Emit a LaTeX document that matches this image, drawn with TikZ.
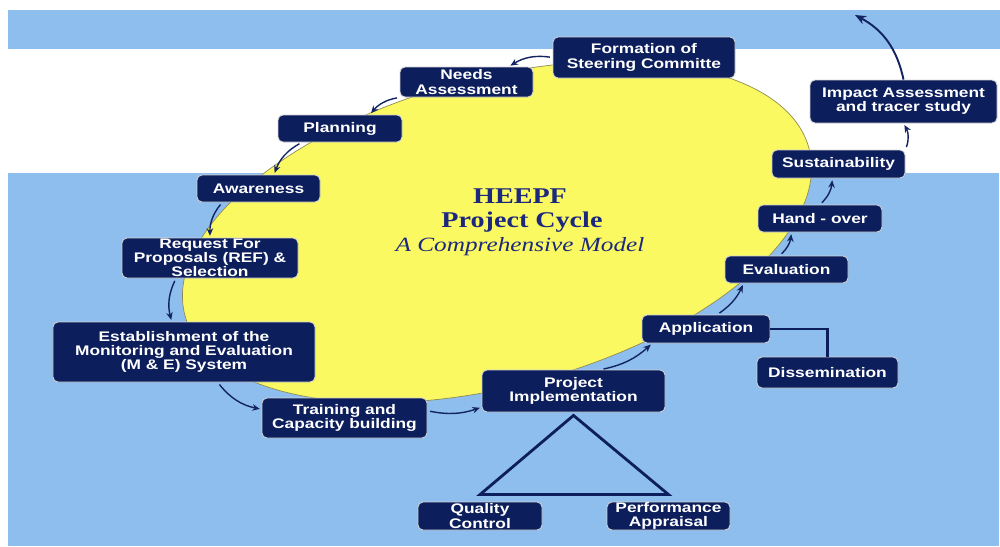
\documentclass[tikz,border=0pt]{standalone}
\usepackage{fontspec}
\usetikzlibrary{arrows.meta}
\newfontfamily\stagefont[FakeStretch=1.25]{Liberation Sans}
\newfontfamily\heepffont[FakeStretch=1.25]{Liberation Serif}
\definecolor{bandblue}{RGB}{142,190,238}
\definecolor{ovalyellow}{RGB}{250,249,98}
\definecolor{boxnavy}{RGB}{12,30,92}
\definecolor{linknavy}{RGB}{20,36,98}
\definecolor{ttlnavy}{RGB}{28,40,125}
\tikzset{
  stage/.style={draw=gray!35, line width=0.5pt, fill=boxnavy, rounded corners=1mm,
    text=white, align=center, inner sep=0pt,
    font=\stagefont\bfseries\fontsize{7.9}{8.1}\selectfont},
  oval/.style={fill=ovalyellow, draw=gray!60!olive, line width=0.4pt},
  cyc/.style={-{Stealth[length=1.5mm,width=1.3mm]}, linknavy, line width=0.8pt,
    shorten <=1.5pt, shorten >=1pt},
  outarr/.style={-{Stealth[length=2.2mm,width=1.8mm]}, linknavy, line width=1.1pt},
  tri/.style={boxnavy, line width=1.6pt, line join=miter},
  link/.style={boxnavy, line width=1.2pt},
  ttl/.style={text=ttlnavy, inner sep=0pt, anchor=base,
    font=\heepffont\bfseries\fontsize{12.8}{14}\selectfont},
  ttlit/.style={text=ttlnavy, inner sep=0pt, anchor=base,
    font=\heepffont\itshape\fontsize{11.5}{13}\selectfont},
}

\begin{document}
\begin{tikzpicture}[x=0.2mm,y=-0.2mm]
\useasboundingbox (0,0) rectangle (1000,546);
% backdrop bands
\fill[white] (0,0) rectangle (1000,546);
\fill[bandblue] (8,10) rectangle (1000,49);
\fill[bandblue] (8,173) rectangle (999,546);
% tilted oval
\filldraw[oval, rotate around={15:(497,232)}] (497,232) ellipse [x radius=64.6mm, y radius=30.8mm];

% stages round the cycle
\node[stage, minimum width=36.4mm, minimum height=8.2mm] (form) at (644,57.5) {Formation of\\Steering Committe};
\node[stage, minimum width=26.6mm, minimum height=6mm] (needs) at (466.5,82) {Needs\\Assessment};
\node[stage, minimum width=24.8mm, minimum height=5.4mm] (plan) at (340,128.5) {Planning};
\node[stage, minimum width=24.6mm, minimum height=5.4mm] (aware) at (258.5,188.5) {Awareness};
\node[stage, minimum width=35.2mm, minimum height=8mm] (req) at (210,258) {Request For\\Proposals (REF) \&\\Selection};
\node[stage, minimum width=52.4mm, minimum height=12mm] (estab) at (184,352) {Establishment of the\\Monitoring and Evaluation\\(M \& E) System};
\node[stage, minimum width=33mm, minimum height=8mm] (train) at (344.5,418) {Training and\\Capacity building};
\node[stage, minimum width=36.6mm, minimum height=8.4mm] (proj) at (573.5,391) {Project\\Implementation};
\node[stage, minimum width=25.6mm, minimum height=5.6mm] (app) at (706,329) {Application};
\node[stage, minimum width=28.2mm, minimum height=6.2mm] (diss) at (827.5,372.5) {Dissemination};
\node[stage, minimum width=24.6mm, minimum height=5.4mm] (eval) at (786.5,269.5) {Evaluation};
\node[stage, minimum width=24.8mm, minimum height=5.4mm] (hand) at (820,218.5) {Hand - over};
\node[stage, minimum width=26.6mm, minimum height=5.6mm] (sust) at (838.5,164) {Sustainability};
\node[stage, minimum width=37.4mm, minimum height=8.6mm] (impact) at (903.5,101.5) {Impact Assessment\\and tracer study};
\node[stage, minimum width=24.8mm, minimum height=5.6mm] (qc) at (480,516) {Quality\\Control};
\node[stage, minimum width=24.6mm, minimum height=5.6mm] (perf) at (668.5,516) {Performance\\Appraisal};

% heading inside the oval
\node[ttl] (heepf) at (520,203) {HEEPF};
\node[ttl] (cycle) at (522,227) {Project Cycle};
\node[ttlit] (model) at (520,251.5) {A Comprehensive Model};

% cycle arrows
\draw[cyc] (form.west) to[bend right=20] (needs.20);
\draw[cyc] (needs.south west) to[bend right=20] (plan.25);
\draw[cyc] (plan.200) to[bend right=20] (aware.42);
\draw[cyc] (aware.201) to[bend right=20] (req.north);
\draw[cyc] (req.211) to[bend right=20] (estab.112);
\draw[cyc] (estab.318) to[bend right=20] (train.174);
\draw[cyc] (train.5) to[bend right=15] (proj.190);
\draw[cyc] (proj.38) to[bend right=15] (app.195);
\draw[cyc] (app.52) to[bend right=15] (eval.198);
\draw[cyc] (eval.116) to[bend right=20] (hand.206);
\draw[cyc] (hand.north) to[bend right=20] (sust.247);
\draw[cyc] (sust.north east) to[bend right=25] (impact.south);
\coordinate (exit) at (855,15);
\draw[outarr] (impact.north) to[bend right=25] (exit);

% side links
\draw[link] (app.east) -| (diss.north);
\draw[tri] ([yshift=-0.6mm]proj.south) -- ([yshift=1.4mm]qc.north) -- ([yshift=1.4mm]perf.north) -- cycle;
\end{tikzpicture}
\end{document}
